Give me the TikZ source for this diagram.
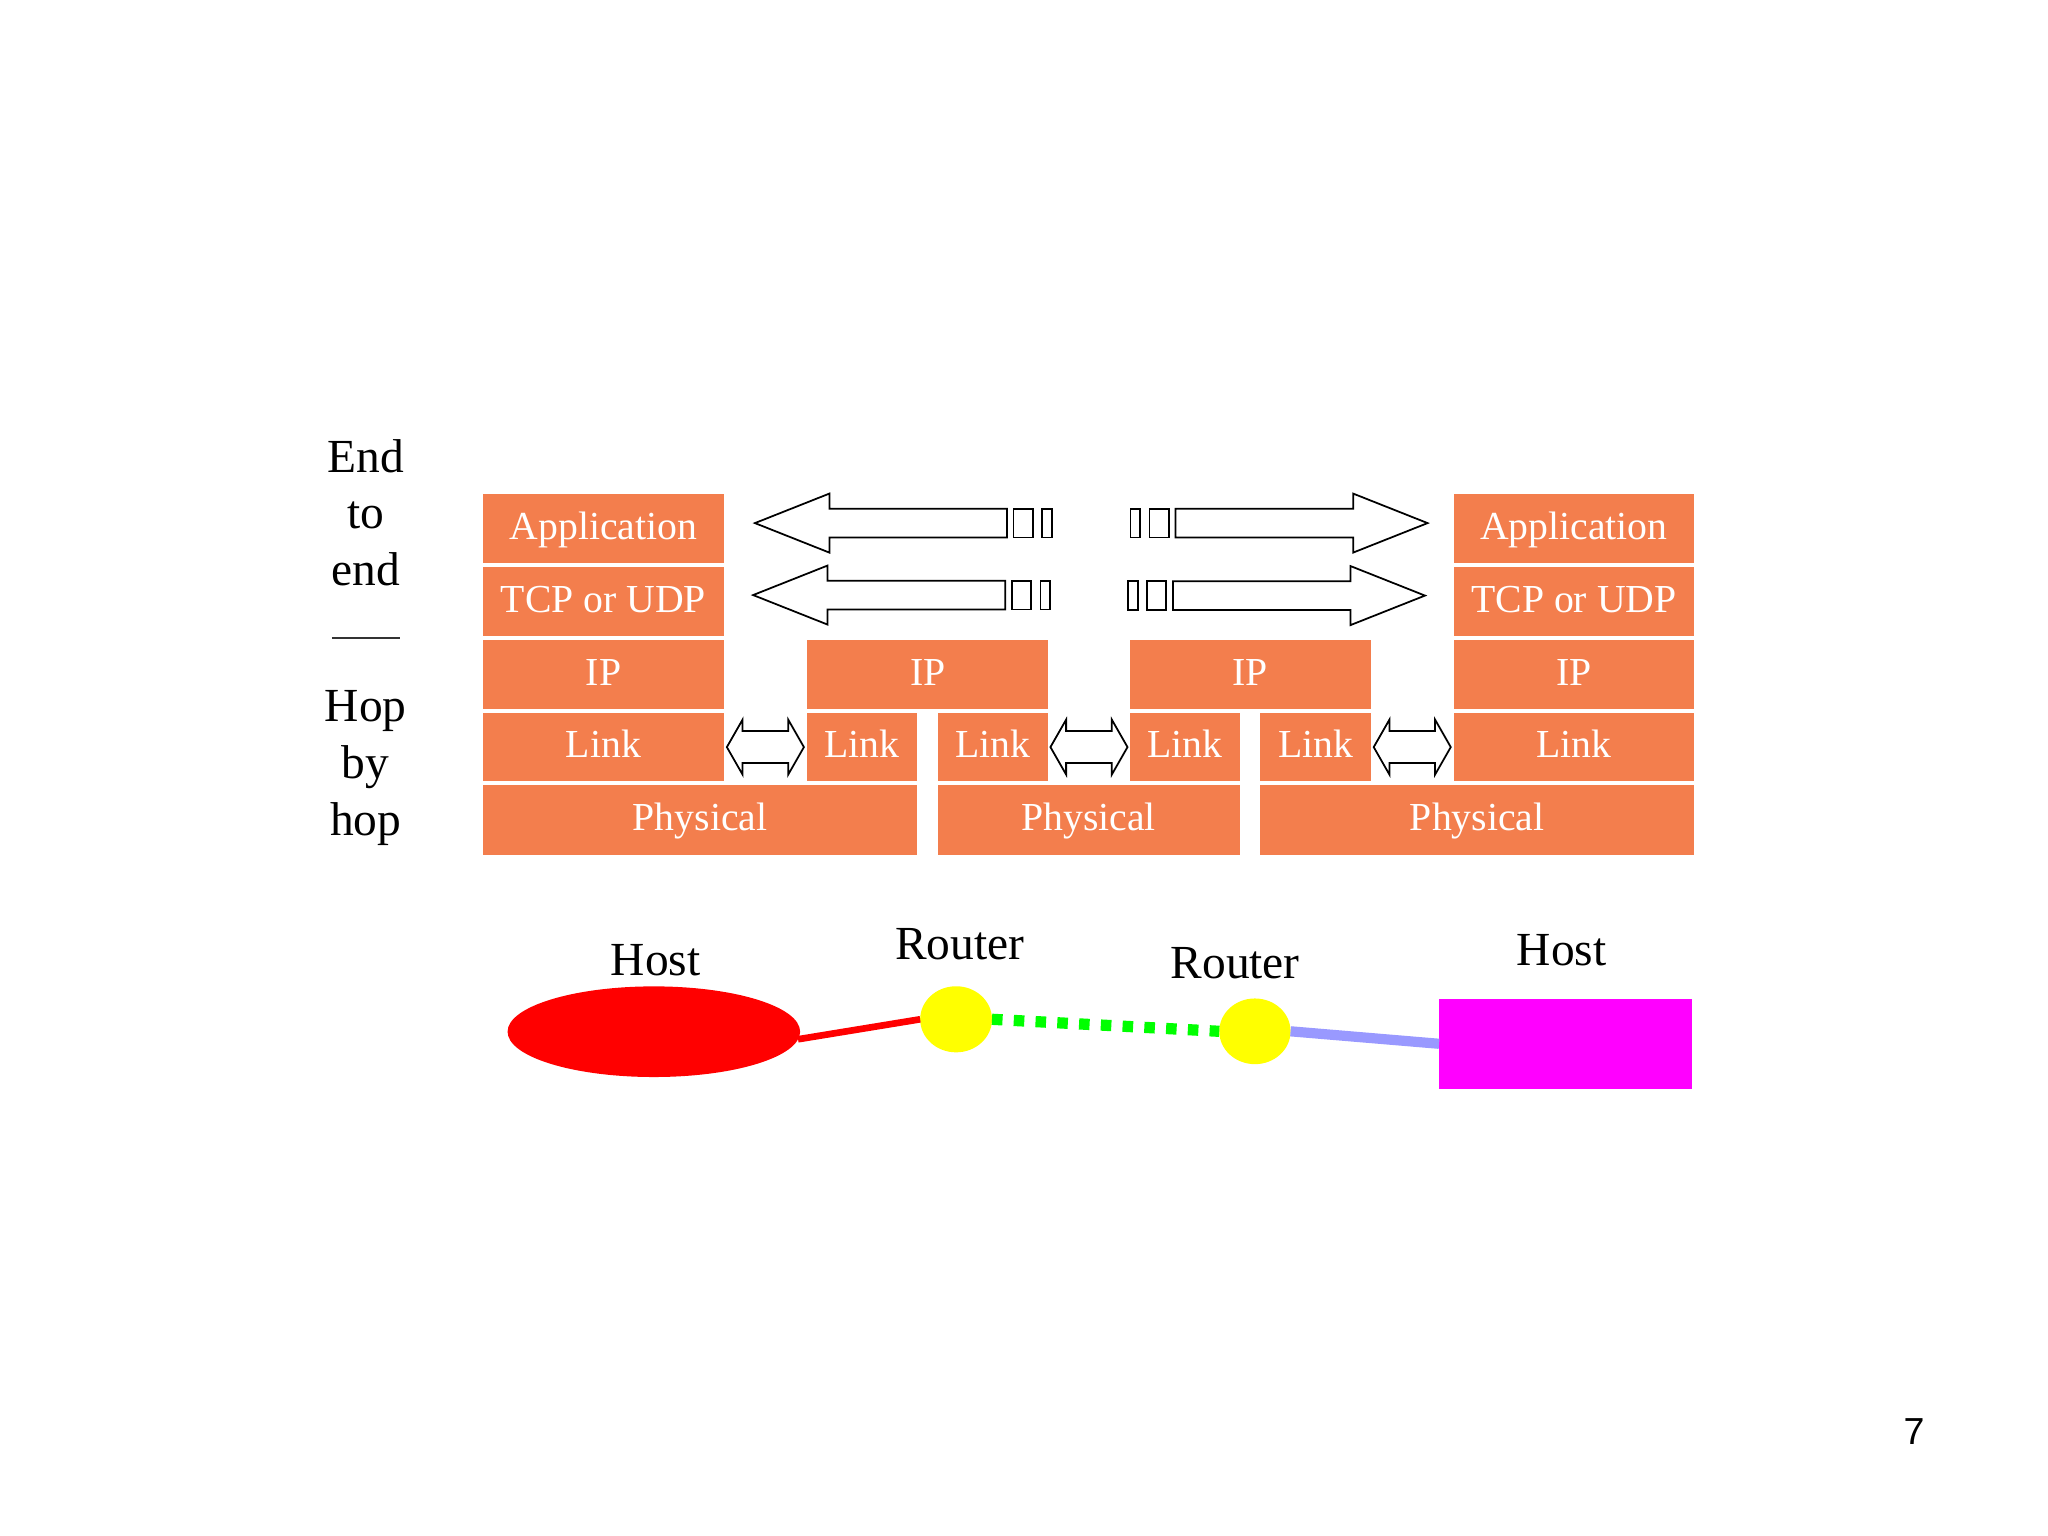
\documentclass[tikz,border=0pt]{standalone}
\usepackage{fontspec}
\setmainfont{Liberation Serif}
\newfontfamily\sansnum{Liberation Sans}
\usetikzlibrary{shapes.geometric,calc}
\definecolor{layerc}{RGB}{243,126,77}
\definecolor{redc}{RGB}{255,0,0}
\definecolor{yelc}{RGB}{255,255,0}
\definecolor{grnc}{RGB}{0,255,0}
\definecolor{magc}{RGB}{255,0,255}
\definecolor{lavc}{RGB}{153,153,255}
\def\pxu{0.0130612cm}
\tikzset{
  lay/.style={fill=layerc, text=white, inner sep=0pt, outer sep=0pt,
    font=\fontsize{11.3}{13}\selectfont, text height=8.5pt, text depth=2.3pt},
  wh/.style 2 args={minimum width=#1*\pxu, minimum height=#2*\pxu},
  side/.style={font=\fontsize{13.5}{15}\selectfont, anchor=base, inner sep=0pt, outer sep=0pt},
  arrowline/.style={draw=black, line width=0.5pt, fill=white, line join=miter},
  blockarrow/.pic={
    \draw[arrowline] (0,0) -- (57,-22.6) -- (57,-11) -- (193,-11) -- (193,11) -- (57,11) -- (57,22.6) -- cycle;
    \draw[arrowline] (198,-11) rectangle (213,11);
    \draw[arrowline] (220,-11) rectangle (227.5,11);
  },
  dblarrow/.pic={
    \draw[arrowline] (-29.5,0) -- (-17.5,-21) -- (-17.5,-12.25) -- (17.5,-12.25) -- (17.5,-21) -- (29.5,0)
      -- (17.5,21) -- (17.5,12.25) -- (-17.5,12.25) -- (-17.5,21) -- cycle;
  },
  hostlabel/.style={font=\fontsize{13.5}{15}\selectfont, anchor=base, inner sep=0pt, outer sep=0pt},
  blob/.style={inner sep=0pt, outer sep=0pt}
}
\begin{document}
\begin{tikzpicture}[x=0.0130612cm,y=-0.0130612cm]
\useasboundingbox[fill=white] (0,0) rectangle (1568,1176);

% left side labels
\node[side] (t1) at (280,362) {End};
\node[side] (t2) at (280,404.5) {to};
\node[side] (t3) at (280,448) {end};
\coordinate (rl) at (254,488.6);
\coordinate (rr) at (306,488.6);
\draw[line width=0.6pt, black!80] (rl) -- (rr);
\node[side] (t4) at (280,552.6) {Hop};
\node[side] (t5) at (280,596) {by};
\node[side] (t6) at (280,639.5) {hop};

% left host stack
\node[lay,wh={184}{53}] (appL) at (462,404.5) {Application};
\node[lay,wh={184}{53}] (tcpL) at (462,460.5) {TCP or UDP};
\node[lay,wh={184}{53}] (ipL) at (462,516.5) {IP};
\node[lay,wh={184}{52}] (linkL) at (462,572) {Link};
\node[lay,wh={332}{53.5}] (physL) at (536,627.75) {Physical};

% router 1
\node[lay,wh={184.5}{53}] (ipR1) at (710.25,516.5) {IP};
\node[lay,wh={84}{52}] (linkR1a) at (660,572) {Link};
\node[lay,wh={84.5}{52}] (linkR1b) at (760.25,572) {Link};
\node[lay,wh={231}{53.5}] (physR1) at (833.5,627.75) {Physical};

% router 2
\node[lay,wh={184.5}{53}] (ipR2) at (957.25,516.5) {IP};
\node[lay,wh={84}{52}] (linkR2a) at (907,572) {Link};
\node[lay,wh={84.5}{52}] (linkR2b) at (1007.25,572) {Link};
\node[lay,wh={332}{53.5}] (physR2) at (1131,627.75) {Physical};

% right host stack
\node[lay,wh={184}{53}] (appR) at (1205,404.5) {Application};
\node[lay,wh={184}{53}] (tcpR) at (1205,460.5) {TCP or UDP};
\node[lay,wh={184}{53}] (ipR) at (1205,516.5) {IP};
\node[lay,wh={184}{52}] (linkR) at (1205,572) {Link};

% end-to-end block arrows
\pic at (578,400.5) {blockarrow};
\pic at (576.6,455.6) {blockarrow};
\pic[xscale=-1] at (1093,400.5) {blockarrow};
\pic[xscale=-1] at (1091,456) {blockarrow};

% hop-by-hop double arrows
\pic at ($(linkL.east)!0.5!(linkR1a.west)$) {dblarrow};
\pic at ($(linkR1b.east)!0.5!(linkR2a.west)$) {dblarrow};
\pic at ($(linkR2b.east)!0.5!(linkR.west)$) {dblarrow};

% bottom network
\node[blob, ellipse, fill=redc, minimum width=224*\pxu, minimum height=69.4*\pxu] (h1) at (500.6,789.9) {};
\node[blob, ellipse, fill=yelc, minimum width=55*\pxu, minimum height=50.6*\pxu] (r1) at (732,780.4) {};
\node[blob, ellipse, fill=yelc, minimum width=54.6*\pxu, minimum height=50.3*\pxu] (r2) at (960.8,789.6) {};
\node[blob, rectangle, fill=magc, minimum width=193.7*\pxu, minimum height=68.9*\pxu] (h2) at (1198.65,799.15) {};

\draw[line width=1.9pt, redc] (h1.-3.4) -- (r1.west);
\draw[line width=3.2pt, grnc, dash pattern=on 3pt off 3.2pt] (r1.east) -- (r2.west);
\draw[line width=2.9pt, lavc] (r2.east) -- (h2.west);

\node[hostlabel] (lh1) at (502,747) {Host};
\node[hostlabel] (lr1) at (734.7,735) {Router};
\node[hostlabel] (lr2) at (945.7,749) {Router};
\node[hostlabel] (lh2) at (1195.7,739) {Host};

% page number
\node[font=\sansnum\fontsize{10.7}{12}\selectfont, anchor=base, inner sep=0pt] (pg) at (1465.5,1105.7) {7};
\end{tikzpicture}
\end{document}
